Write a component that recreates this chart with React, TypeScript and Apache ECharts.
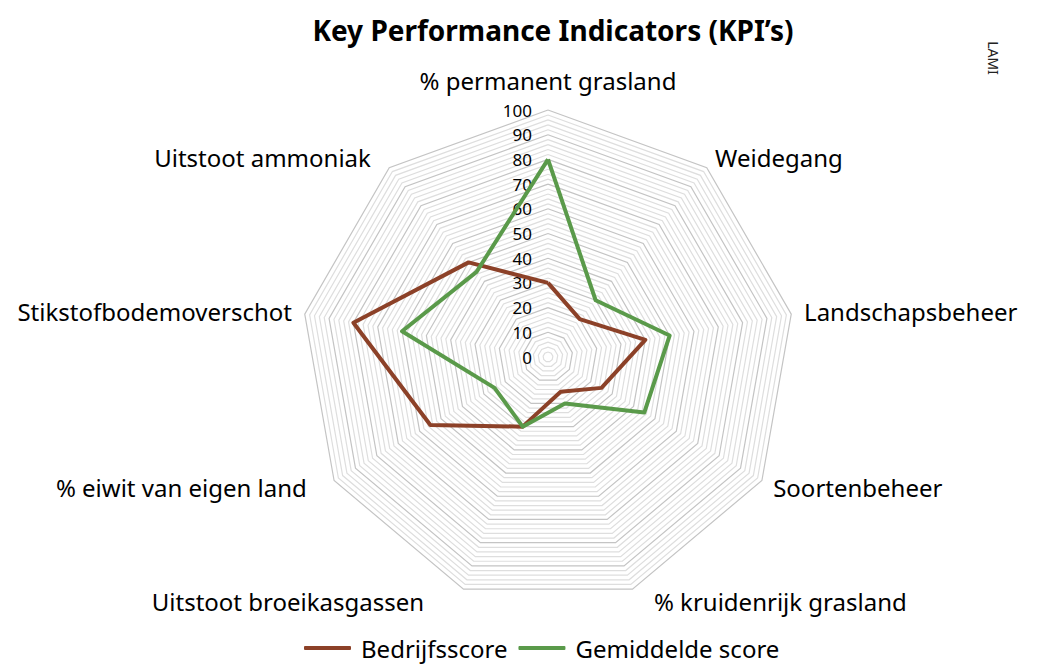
import React, { useEffect, useRef } from "react";
import * as echarts from "echarts";

// Indicators in visual clockwise order starting at the top
const indicators = [
  "% permanent grasland",
  "Weidegang",
  "Landschapsbeheer",
  "Soortenbeheer",
  "% kruidenrijk grasland",
  "Uitstoot broeikasgassen",
  "% eiwit van eigen land",
  "Stikstofbodemoverschot",
  "Uitstoot ammoniak",
];
const bedrijfsscore = [30, 20, 40, 25, 15, 30, 55, 80, 50];
const gemiddeldeScore = [80, 30, 50, 45, 20, 30, 25, 60, 45];
const seriesNames = ["Bedrijfsscore", "Gemiddelde score"];
const seriesColors = ["#8c4128", "#5a9a4a"];
const axisMax = 100;
const labelStep = 10;

// small per-label layout nudges (padding: top, right, bottom, left)
const namePadding = [
  [0, 0, 5, 0],
  [0, 0, 0, 0],
  [0, 0, 0, 0],
  [0, 0, 0, 0],
  [0, 0, 0, 17],
  [0, 35, 0, 0],
  [0, 16, 0, 0],
  [0, 0, 0, 0],
  [0, 10, 0, 0],
];

// ECharts lays radar indicators counter-clockwise; reorder to render clockwise
const toCCW = <T,>(arr: T[]): T[] => [arr[0], ...arr.slice(1).reverse()];

export default function App() {
  const ref = useRef<HTMLDivElement>(null);
  useEffect(() => {
    if (!ref.current) return;
    const chart = echarts.init(ref.current, null, { renderer: "svg" });
    const font = "Noto Sans";
    const pads = toCCW(namePadding);
    const ind = toCCW(indicators).map((name, i) => ({
      name,
      min: 0,
      max: axisMax,
      nameTextStyle: { padding: pads[i] },
      axisLabel: i === 0 ? { show: true } : { show: false },
    }));
    chart.setOption({
      animation: false,
      backgroundColor: "#ffffff",
      title: {
        text: "Key Performance Indicators (KPI\u2019s)",
        left: 548,
        textAlign: "center",
        top: 11,
        textStyle: { fontFamily: font, fontSize: 28, fontWeight: "bold", color: "#000" },
      },
      graphic: [
        {
          type: "text",
          x: 993,
          y: 58,
          rotation: -Math.PI / 2,
          style: { text: "LAMI", fontFamily: font, fontSize: 14, fill: "#222", textAlign: "center", textVerticalAlign: "middle" },
        },
      ],
      legend: {
        bottom: 0,
        left: 299,
        icon: "roundRect",
        itemWidth: 47,
        itemHeight: 4,
        itemGap: 11,
        textStyle: { fontFamily: font, fontSize: 24, color: "#000", padding: [0, 0, 0, 5] },
        data: seriesNames,
      },
      radar: {
        center: [548, 357],
        radius: 247,
        startAngle: 90,
        shape: "polygon",
        splitNumber: 50,
        indicator: ind,
        nameGap: 13,
        axisName: { color: "#000", fontFamily: font, fontSize: 24 },
        axisLine: { show: false },
        axisTick: { show: false },
        splitArea: { show: false },
        splitLine: {
          lineStyle: {
            color: ["#c4c4c4", "#dedede", "#dedede", "#dedede", "#dedede"],
            width: 1.2,
          },
        },
        axisLabel: {
          show: false,
          fontFamily: font,
          fontSize: 17,
          margin: 16,
          color: "#000",
          formatter: (v: number) => (v % labelStep === 0 ? String(v) : ""),
        },
      },
      series: [
        {
          type: "radar",
          symbol: "none",
          data: [
            {
              name: seriesNames[0],
              value: toCCW(bedrijfsscore),
              lineStyle: { color: seriesColors[0], width: 4 },
              itemStyle: { color: seriesColors[0] },
            },
            {
              name: seriesNames[1],
              value: toCCW(gemiddeldeScore),
              lineStyle: { color: seriesColors[1], width: 4 },
              itemStyle: { color: seriesColors[1] },
            },
          ],
        },
      ],
    });
    return () => chart.dispose();
  }, []);
  return (
    <div
      ref={ref}
      style={{ position: "fixed", left: 0, top: 0, width: 1041, height: 665 }}
    />
  );
}
